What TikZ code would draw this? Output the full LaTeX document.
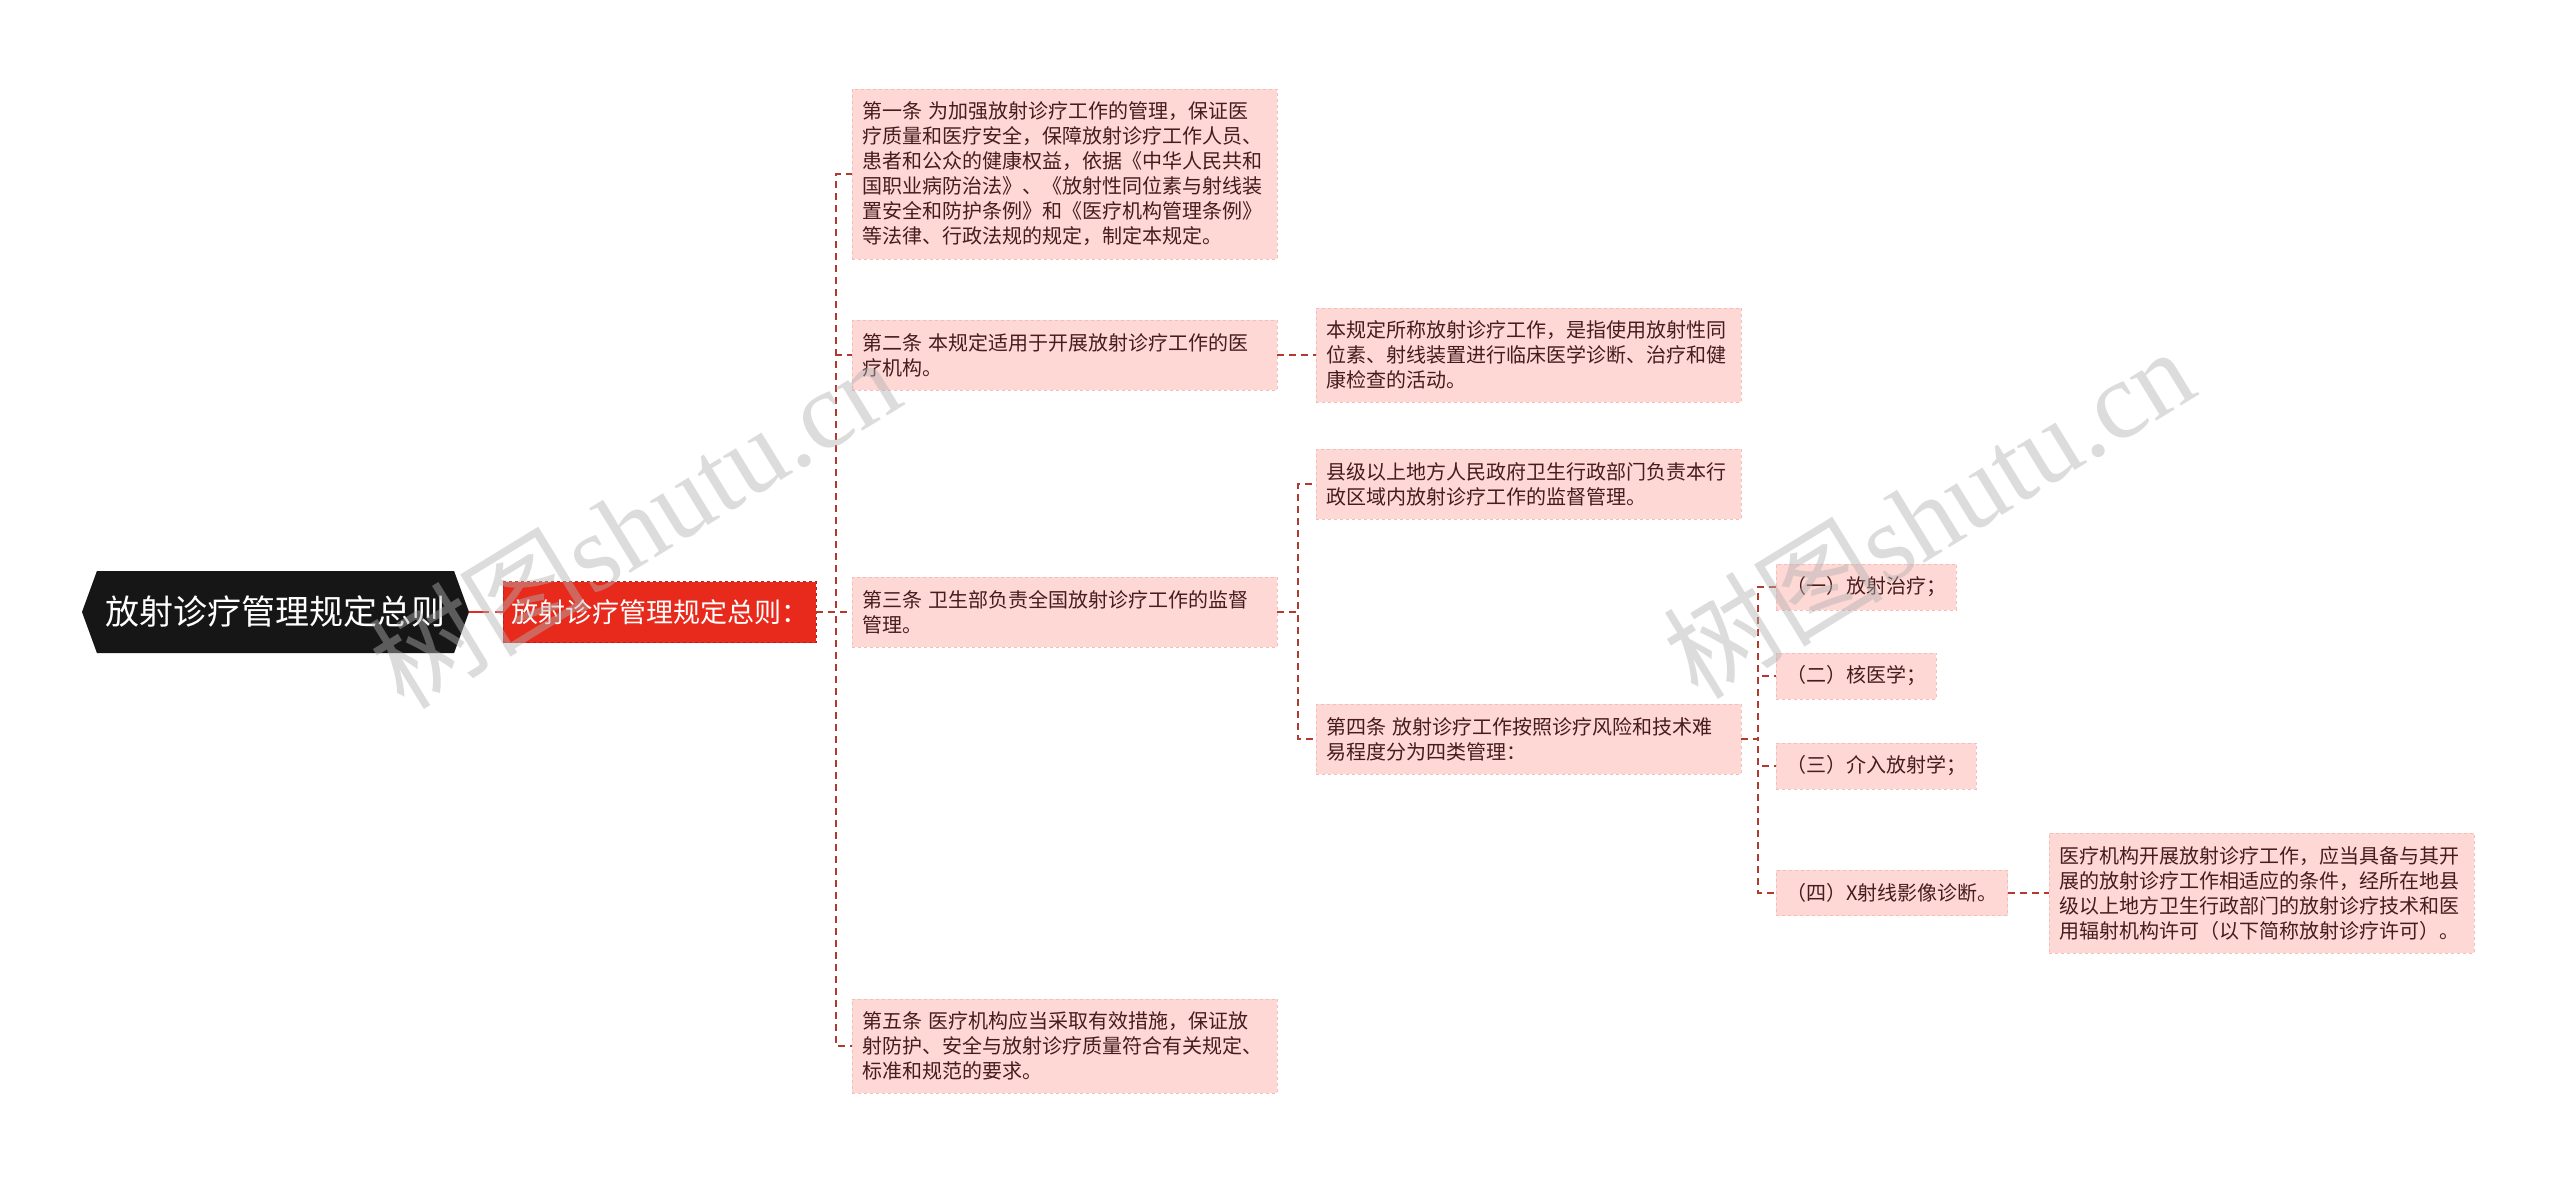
\documentclass[tikz,border=0pt]{standalone}
\usepackage{fontspec}
\setmainfont{Noto Sans CJK SC}
\newfontfamily\wmlatin{Liberation Serif}
\usetikzlibrary{shapes.symbols}

\definecolor{rootfill}{RGB}{22,22,22}
\definecolor{headfill}{RGB}{232,42,28}
\definecolor{headline}{RGB}{185,30,20}
\definecolor{boxfill}{RGB}{253,216,213}
\definecolor{boxline}{RGB}{246,188,184}
\definecolor{boxtext}{RGB}{70,28,28}
\definecolor{linkcol}{RGB}{178,58,46}

\begin{document}
\begin{tikzpicture}[x=1pt,y=-1pt,
    root/.style={signal,signal to=west and east,signal pointer angle=140,fill=rootfill,
      text=white,font=\fontsize{34}{40}\selectfont,minimum width=387pt,minimum height=82pt},
    head/.style={fill=headfill,draw=headline,dashed,text=white,anchor=west,
      font=\fontsize{27}{32}\selectfont,minimum width=313pt,minimum height=61pt},
    box/.style={fill=boxfill,draw=boxline,dashed,text=boxtext,anchor=west,align=left,
      font=\fontsize{20}{25}\selectfont,inner xsep=10pt,inner ysep=13pt},
    wide/.style={box,text width=405pt},
    item/.style={box,minimum height=45pt},
    link/.style={draw=linkcol,line width=1.6pt,dash pattern=on 7pt off 5pt},
    wm/.style={text=black!30,opacity=0.45,rotate=31.5,font=\fontsize{110}{110}\selectfont}]
  \fill[white] (0,0) rectangle (2560,1183);
  \useasboundingbox (0,0) rectangle (2560,1183);

  \node[root] (root) at (275.5,612) {放射诊疗管理规定总则};
  \node[head] (head) at (503,612) {放射诊疗管理规定总则：};

  \node[wide] (art1) at (852,174) {第一条 为加强放射诊疗工作的管理，保证医\\疗质量和医疗安全，保障放射诊疗工作人员、\\患者和公众的健康权益，依据《中华人民共和\\国职业病防治法》、《放射性同位素与射线装\\置安全和防护条例》和《医疗机构管理条例》\\等法律、行政法规的规定，制定本规定。};
  \node[wide] (art2) at (852,355) {第二条 本规定适用于开展放射诊疗工作的医\\疗机构。};
  \node[wide] (art3) at (852,612) {第三条 卫生部负责全国放射诊疗工作的监督\\管理。};
  \node[wide] (art5) at (852,1046) {第五条 医疗机构应当采取有效措施，保证放\\射防护、安全与放射诊疗质量符合有关规定、\\标准和规范的要求。};

  \node[wide] (scope) at (1316,355) {本规定所称放射诊疗工作，是指使用放射性同\\位素、射线装置进行临床医学诊断、治疗和健\\康检查的活动。};
  \node[wide] (local) at (1316,484) {县级以上地方人民政府卫生行政部门负责本行\\政区域内放射诊疗工作的监督管理。};
  \node[wide] (art4) at (1316,739) {第四条 放射诊疗工作按照诊疗风险和技术难\\易程度分为四类管理：};

  \node[item] (cls1) at (1776,587) {（一）放射治疗；};
  \node[item] (cls2) at (1776,676) {（二）核医学；};
  \node[item] (cls3) at (1776,766) {（三）介入放射学；};
  \node[item] (cls4) at (1776,893) {（四）X射线影像诊断。};
  \node[wide] (perm) at (2049,893) {医疗机构开展放射诊疗工作，应当具备与其开\\展的放射诊疗工作相适应的条件，经所在地县\\级以上地方卫生行政部门的放射诊疗技术和医\\用辐射机构许可（以下简称放射诊疗许可）。};

  \coordinate (bus1) at (836,612);
  \coordinate (bus2) at (1298,612);
  \coordinate (bus3) at (1758,739);

  \draw[draw=headfill,line width=2.5pt,dash pattern=on 20pt off 6pt] (root.east) -- (head.west);
  \foreach \n in {art1,art2,art3,art5}
    \draw[link] (head.east) -- (bus1) |- (\n.west);
  \draw[link] (art2.east) -- (scope.west);
  \foreach \n in {local,art4}
    \draw[link] (art3.east) -- (bus2) |- (\n.west);
  \foreach \n in {cls1,cls2,cls3,cls4}
    \draw[link] (art4.east) -- (bus3) |- (\n.west);
  \draw[link] (cls4.east) -- (perm.west);

  % watermarks
  \node[wm] (wmleft) at (634,522) {树图{\wmlatin shutu.cn}};
  \node[wm] (wmright) at (1928,512) {树图{\wmlatin shutu.cn}};
\end{tikzpicture}
\end{document}
